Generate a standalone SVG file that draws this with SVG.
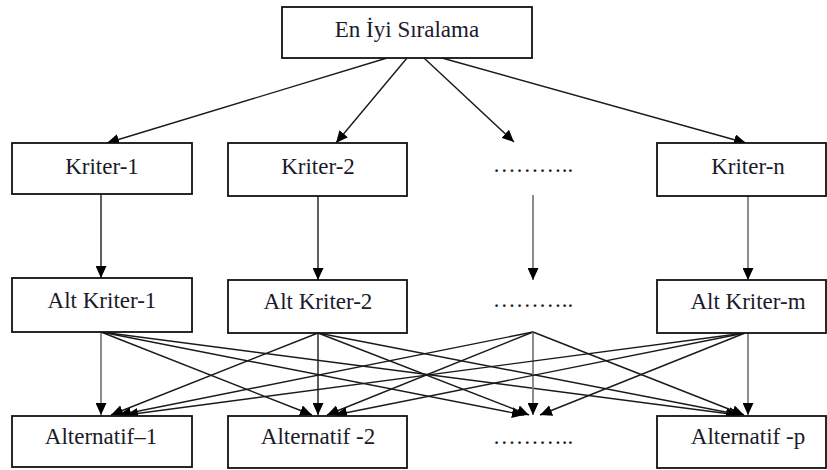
<svg xmlns="http://www.w3.org/2000/svg" width="827" height="470" viewBox="0 0 827 470">
<style>
.box{fill:#fff;stroke:#111;stroke-width:1.8}
.lbl{font-family:'Liberation Serif','DejaVu Serif','Times New Roman',serif;font-size:23px;fill:#1a1a2a;text-anchor:middle}
.c{fill:none;stroke:#1a1a1a;stroke-width:1.4;marker-end:url(#ah)}
.g{fill:none;stroke:#808080;stroke-width:1.8;marker-end:url(#ah)}
</style>
<defs>
<marker id="ah" markerUnits="userSpaceOnUse" markerWidth="13" markerHeight="11" refX="12" refY="5.5" orient="auto">
<path d="M0,0 L12,5.5 L0,11 Z" fill="#000"/>
</marker>
</defs>
<rect width="827" height="470" fill="#fff"/>
<g id="connectors">
<line class="c" x1="387" y1="58" x2="107" y2="143"/>
<line class="c" x1="407" y1="58" x2="336" y2="143"/>
<line class="c" x1="424" y1="58" x2="514" y2="142"/>
<line class="c" x1="442" y1="58" x2="746" y2="143"/>
<line class="c" x1="101" y1="194" x2="101" y2="278"/>
<line class="c" x1="318" y1="196" x2="318" y2="280"/>
<line class="g" x1="533" y1="195" x2="533" y2="280"/>
<line class="g" x1="748" y1="196" x2="748" y2="280"/>
<line class="g" x1="101" y1="332" x2="101" y2="415"/>
<line class="c" x1="101" y1="332" x2="312" y2="415"/>
<line class="c" x1="101" y1="332" x2="524" y2="415"/>
<line class="c" x1="101" y1="332" x2="738" y2="415"/>
<line class="c" x1="318" y1="333" x2="111" y2="415"/>
<line class="c" x1="318" y1="333" x2="318" y2="415"/>
<line class="c" x1="318" y1="333" x2="529" y2="415"/>
<line class="c" x1="318" y1="333" x2="741" y2="415"/>
<line class="c" x1="533" y1="332" x2="119" y2="415"/>
<line class="c" x1="533" y1="332" x2="327" y2="415"/>
<line class="g" x1="533" y1="332" x2="533" y2="415"/>
<line class="c" x1="533" y1="332" x2="744" y2="415"/>
<line class="c" x1="745" y1="333" x2="126" y2="415"/>
<line class="c" x1="745" y1="333" x2="335" y2="415"/>
<line class="c" x1="745" y1="333" x2="540" y2="415"/>
<line class="g" x1="748" y1="333" x2="748" y2="415"/>
</g>
<g id="n-top"><rect class="box" x="282" y="7" width="250" height="51"/><text class="lbl" x="407" y="37">En İyi Sıralama</text></g>
<g id="n-k1"><rect class="box" x="12" y="143" width="180" height="51"/><text class="lbl" x="102" y="174">Kriter-1</text></g>
<g id="n-k2"><rect class="box" x="228" y="143" width="179" height="53"/><text class="lbl" x="318" y="174">Kriter-2</text></g>
<g id="n-kd"><text class="lbl" x="533" y="172">………..</text></g>
<g id="n-kn"><rect class="box" x="657" y="143" width="169" height="53"/><text class="lbl" x="748" y="174">Kriter-n</text></g>
<g id="n-a1"><rect class="box" x="12" y="278" width="180" height="54"/><text class="lbl" x="102" y="308">Alt Kriter-1</text></g>
<g id="n-a2"><rect class="box" x="228" y="280" width="179" height="53"/><text class="lbl" x="318" y="309">Alt Kriter-2</text></g>
<g id="n-ad"><text class="lbl" x="533" y="307">………..</text></g>
<g id="n-am"><rect class="box" x="657" y="280" width="169" height="53"/><text class="lbl" x="748" y="309">Alt Kriter-m</text></g>
<g id="n-l1"><rect class="box" x="12" y="416" width="180" height="51"/><text class="lbl" x="101" y="444">Alternatif–1</text></g>
<g id="n-l2"><rect class="box" x="228" y="416" width="179" height="52"/><text class="lbl" x="318" y="444">Alternatif -2</text></g>
<g id="n-ld"><text class="lbl" x="533" y="444">………..</text></g>
<g id="n-lp"><rect class="box" x="657" y="416" width="169" height="52"/><text class="lbl" x="748" y="444">Alternatif -p</text></g>
</svg>
